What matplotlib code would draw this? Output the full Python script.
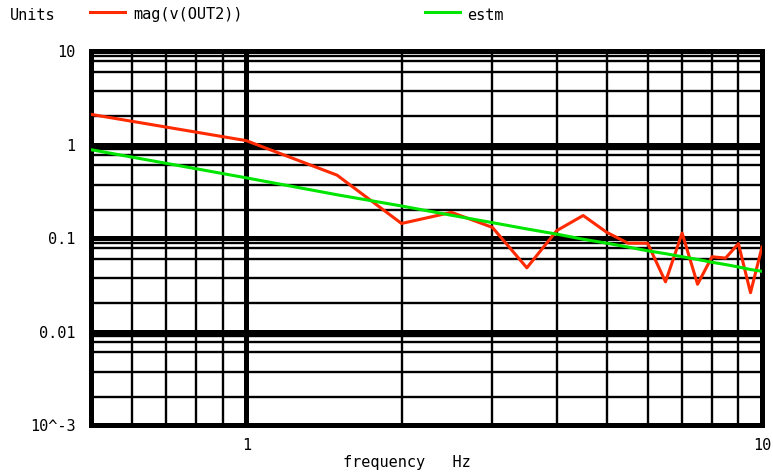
import numpy as np
import matplotlib
matplotlib.use("Agg")
import matplotlib.pyplot as plt

# frequency points (Hz) and the two traces
freq = [0.5, 1.0, 1.5, 2.0, 2.5, 3.0, 3.5, 4.0, 4.5, 5.0,
        5.5, 6.0, 6.5, 7.0, 7.5, 8.0, 8.5, 9.0, 9.5, 10.0]
mag_out2 = [2.1, 1.1, 0.47, 0.143, 0.188, 0.13, 0.048, 0.12, 0.174, 0.115,
            0.088, 0.088, 0.034, 0.113, 0.032, 0.063, 0.061, 0.087, 0.026, 0.080]
estm = [0.88, 0.44, 0.29, 0.22, 0.175, 0.146, 0.125, 0.11, 0.097, 0.088,
        0.08, 0.073, 0.068, 0.063, 0.059, 0.055, 0.052, 0.049, 0.046, 0.044]

x_major = [1, 10]
x_minor = [0.6, 0.7, 0.8, 0.9, 2, 3, 4, 5, 6, 7, 8, 9]
y_major = [1e-3, 1e-2, 1e-1, 1, 10]
y_major_labels = ["10^-3", "0.01", "0.1", "1", "10"]
y_minor_mult = [2, 3.7, 6, 7.8, 8.9]

RED = "#ff2a00"
GREEN = "#00e600"
FONT = "DejaVu Sans Mono"

fig = plt.figure(figsize=(7.73, 4.76), dpi=100)
ax = fig.add_axes([91 / 773, 1 - 425 / 476, (762 - 91) / 773, (425 - 51) / 476])
ax.set_xscale("log")
ax.set_yscale("log")
ax.set_xlim(0.5, 10)
ax.set_ylim(1e-3, 10)

# grid: thin lines at minor positions, thick at decades
for xv in x_minor:
    ax.axvline(xv, color="black", lw=1.7, zorder=1)
for dec in y_major[:-1]:
    for m in y_minor_mult:
        ax.axhline(dec * m, color="black", lw=1.7, zorder=1)
for xv in x_major:
    ax.axvline(xv, color="black", lw=3.6, zorder=1)
for yv in y_major:
    ax.axhline(yv, color="black", lw=3.6, zorder=1)

ax.plot(freq, mag_out2, color=RED, lw=2.2, zorder=3)
ax.plot(freq, estm, color=GREEN, lw=2.2, zorder=3)

for sp in ax.spines.values():
    sp.set_linewidth(3.6)
    sp.set_color("black")

ax.set_xticks(x_major)
ax.set_xticklabels(["1", "10"], fontfamily=FONT, fontsize=11)
ax.set_xticks([], minor=True)
ax.set_yticks(y_major)
ax.set_yticklabels(y_major_labels, fontfamily=FONT, fontsize=11)
ax.set_yticks([], minor=True)
ax.tick_params(axis="both", length=0)
ax.tick_params(axis="x", pad=9)
ax.tick_params(axis="y", pad=11)

# header: units label and legend
fig.text(10 / 773, 1 - 15 / 476, "Units", fontfamily=FONT, fontsize=11, va="center")
fig.add_artist(plt.Line2D([90 / 773, 125 / 773], [1 - 12 / 476] * 2, color=RED, lw=2.2))
fig.text(133 / 773, 1 - 15 / 476, "mag(v(OUT2))", fontfamily=FONT, fontsize=11, va="center")
fig.add_artist(plt.Line2D([425 / 773, 460 / 773], [1 - 12 / 476] * 2, color=GREEN, lw=2.2))
fig.text(467 / 773, 1 - 15 / 476, "estm", fontfamily=FONT, fontsize=11, va="center")

fig.text(343 / 773, 1 - 462 / 476, "frequency   Hz", fontfamily=FONT, fontsize=11, va="center")

fig.savefig("out.png", dpi=100, facecolor="white")
